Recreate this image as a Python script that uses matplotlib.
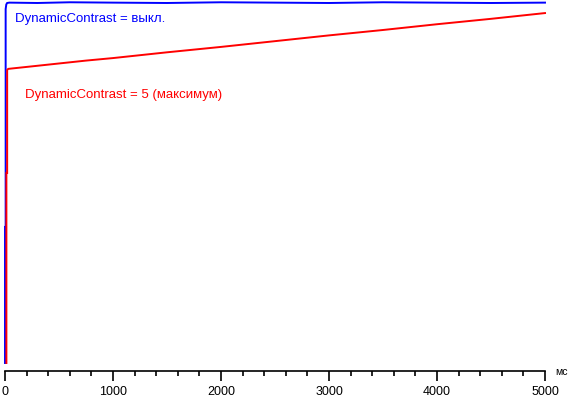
import matplotlib
matplotlib.use("Agg")
import matplotlib.pyplot as plt
from matplotlib.ticker import MultipleLocator

# time in ms, brightness in relative units (0 = black, 100 = max)
blue_t = [0, 0, 6, 6, 12, 20, 40, 300, 600, 1000, 1500, 2000, 2500, 3000, 3500, 4000, 4500, 5000]
blue_v = [0, 37.8, 37.8, 98.3, 99.6, 100.0, 100.1, 100.0, 100.2, 100.1, 100.0, 100.2, 100.1, 100.0, 100.2, 100.1, 100.0, 100.1]

red_t = [13, 13, 20, 20, 30, 250, 500, 750, 1000, 1500, 2000, 2500, 3000, 3500, 4000, 4500, 5000]
red_v = [0, 52.8, 52.8, 81.4, 81.7, 82.4, 83.2, 84.0, 84.7, 86.3, 87.8, 89.4, 91.0, 92.5, 94.1, 95.6, 97.2]

xticks_major = [0, 1000, 2000, 3000, 4000, 5000]
label_off = "DynamicContrast = выкл."
label_max = "DynamicContrast = 5 (максимум)"
unit = "мс"

plt.rcParams['font.family'] = ['Liberation Sans', 'DejaVu Sans']

W, H = 569, 397
PT = 72 / 100  # points per pixel
fig = plt.figure(figsize=(W / 100, H / 100), dpi=100)
ax = fig.add_axes([5 / W, (H - 371) / H, 540 / W, 371 / H])

ax.plot(blue_t, blue_v, color='#0000ff', lw=1.4, solid_joinstyle='miter', clip_on=False)
ax.plot(red_t, red_v, color='#ff0000', lw=1.4, solid_joinstyle='miter', clip_on=False)

ax.set_xlim(0, 5000)
ax.set_ylim(-2.22, 100.83)

for s in ['top', 'right', 'left']:
    ax.spines[s].set_visible(False)
ax.spines['bottom'].set_linewidth(1.2)
ax.spines['bottom'].set_color('black')
ax.set_yticks([])
ax.set_xticks(xticks_major)
ax.set_xticklabels([str(v) for v in xticks_major])
ax.xaxis.set_minor_locator(MultipleLocator(200))
ax.tick_params(axis='x', which='major', length=10 * PT, width=1.2, direction='out',
               labelsize=9, pad=5 * PT)
ax.tick_params(axis='x', which='minor', length=5 * PT, width=1.2, direction='out')

ax.text(10 / 540, (371 - 22) / 371, label_off, transform=ax.transAxes,
        color='#0000ff', fontsize=9.5, va='baseline', ha='left')
ax.text(20 / 540, (371 - 98) / 371, label_max, transform=ax.transAxes,
        color='#ff0000', fontsize=9.5, va='baseline', ha='left')
fig.text(555 / W, (H - 372) / H, unit, fontsize=7.5, ha='left', va='center')

fig.savefig("out.png", dpi=100)
